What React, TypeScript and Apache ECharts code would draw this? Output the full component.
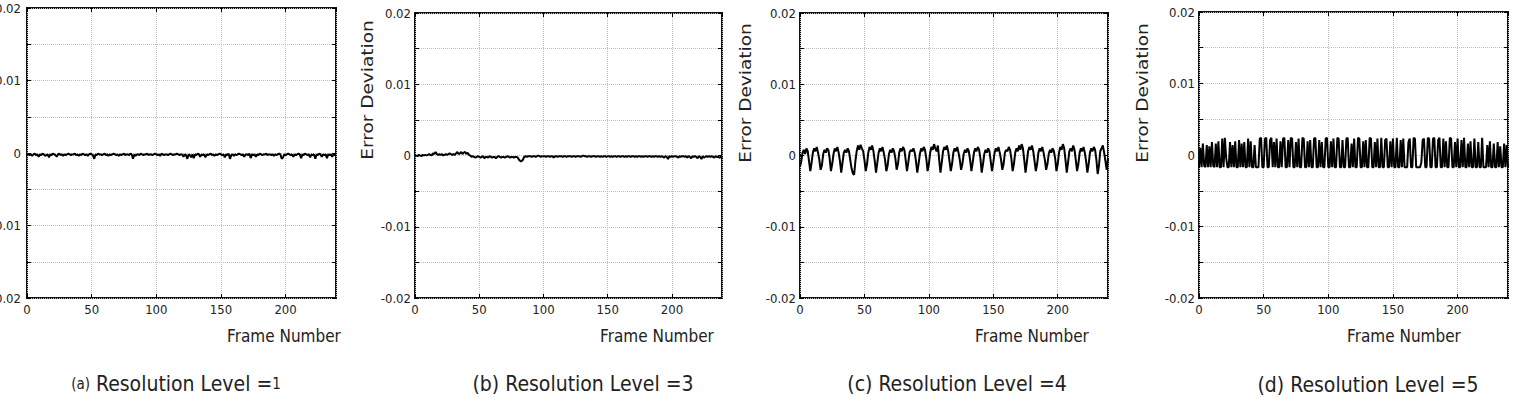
import React, { useEffect, useRef } from "react";
import * as echarts from "echarts";

// Error deviation per frame, in units of 1e-4 (frame index = array position)
const SCALE = 1e-4;

const levelA = [
  -1, -2, -3, -2, -4, -2, -1, -3, -2, -5,
  -2, -3, -1, -2, -4, -3, -2, -6, -2, -3,
  -1, -2, -3, -5, -2, -1, -3, -2, -4, -2,
  -3, -2, -1, -2, -3, -2, -2, -1, -3, -2,
  -4, -2, -3, -1, -2, -3, -2, -4, -2, -1,
  -2, -3, -8, -2, -3, -1, -2, -2, -3, -2,
  -1, -3, -2, -4, -2, -3, -2, -1, -2, -3,
  -2, -4, -2, -3, -2, -1, -3, -2, -2, -3,
  -1, -2, -8, -2, -4, -2, -2, -3, -1, -2,
  -3, -2, -2, -1, -3, -2, -2, -3, -2, -1,
  -2, -3, -2, -4, -1, -2, -3, -2, -2, -3,
  -2, -1, -2, -3, -2, -2, -1, -2, -3, -2,
  -2, -5, -2, -3, -8, -2, -3, -6, -2, -7,
  -2, -3, -1, -2, -5, -2, -3, -2, -6, -2,
  -3, -2, -1, -3, -2, -4, -2, -3, -2, -1,
  -2, -3, -2, -6, -2, -3, -1, -8, -3, -2,
  -4, -2, -3, -2, -1, -2, -3, -2, -5, -2,
  -2, -3, -1, -7, -2, -3, -2, -5, -2, -3,
  -1, -2, -3, -2, -2, -1, -3, -2, -2, -3,
  -2, -4, -2, -3, -2, -1, -2, -8, -6, -2,
  -3, -2, -1, -2, -3, -2, -5, -2, -3, -2,
  -1, -2, -7, -2, -3, -1, -2, -3, -2, -6,
  -2, -3, -2, -8, -2, -3, -1, -2, -5, -2,
  -3, -2, -7, -2, -3, -2, -5, -2, -3, -2,
];

const levelB = [
  -1, 0, -1, 1, 0, -1, 1, 0, 1, 0,
  1, 2, 1, 0, 3, 2, 5, 2, 1, 2,
  1, 2, 0, 1, 2, 1, 2, 3, 2, 1,
  2, 1, 3, 5, 2, 3, 5, 2, 4, 5,
  2, 4, 1, 0, -2, -1, -2, -3, -2, -1,
  -2, -3, -2, -1, -4, -2, -2, -3, -1, -2,
  -3, -2, -2, -4, -2, -1, -2, -3, -2, -2,
  -3, -2, -1, -2, -3, -2, -2, -3, -2, -2,
  -3, -6, -8, -8, -6, -2, -1, -2, -1, -1,
  -1, -2, -1, -1, -2, -1, 0, -1, -2, -1,
  -1, -1, -2, -1, -1, -2, -1, -1, -3, -1,
  -1, -2, -1, -1, -1, -2, -1, -1, -2, -1,
  -1, -1, -2, -1, -1, -2, -1, -1, -1, -2,
  -1, 0, -1, -1, -2, -1, -1, -2, -1, -1,
  -1, -2, -1, -1, -2, -1, -2, -1, -1, -2,
  -1, -1, -2, -1, -2, -1, -1, -2, -1, -1,
  -2, -1, -1, -2, -1, -2, -1, -1, -2, -1,
  -1, -2, -1, -2, -1, -1, -2, -1, -2, -1,
  -1, -2, -1, -1, -2, -1, -2, -1, -1, -2,
  -1, -2, -1, -2, -3, -1, -2, -5, -1, -2,
  -1, -2, -1, -1, -2, -3, -1, -2, -1, -1,
  -2, -1, -3, -1, -2, -4, -1, -2, -1, -2,
  -4, -1, -2, -5, -1, -3, -2, -1, -2, -1,
  -2, -1, -2, -3, -1, -2, -2, -3, -2, -4,
];

const levelC = [
  -16, -8, 4, 8, 2, 10, 6, -8, -22, -10,
  4, 10, 6, 12, 4, -6, -20, -14, 2, 8,
  4, 10, 8, -4, -22, -12, 2, 10, 6, 12,
  4, -8, -24, -10, 4, 8, 4, 10, 6, -6,
  -18, -25, -27, -8, 6, 14, 8, 15, 10, 6,
  -6, -22, -12, 4, 12, 8, 14, 6, -8, -24,
  -10, 4, 10, 6, 12, 4, -6, -22, -14, 2,
  8, 4, 10, 6, -4, -20, -12, 4, 10, 6,
  12, 8, -6, -22, -10, 4, 8, 6, 10, 4,
  -8, -24, -12, 2, 10, 6, 12, 8, -4, -22,
  -12, 4, 12, 8, 16, 10, 6, 14, -6, -24,
  -10, 6, 12, 8, 14, 6, -8, -22, -12, 4,
  10, 6, 12, 4, -6, -20, -12, 2, 8, 4,
  10, 6, -6, -22, -10, 4, 10, 6, 12, 8,
  -4, -24, -12, 2, 8, 4, 10, 6, -8, -22,
  -10, 4, 10, 6, 12, 4, -6, -20, -12, 4,
  8, 6, 12, 8, -4, -22, -12, 4, 10, 6,
  14, 8, 16, 10, -6, -24, -10, 6, 12, 8,
  14, 6, -8, -22, -12, 4, 10, 6, 12, 4,
  -6, -20, -12, 2, 8, 4, 10, 6, -4, -22,
  -12, 4, 12, 8, 16, 10, -6, -24, -10, 6,
  10, 6, 14, 8, -6, -22, -12, 4, 10, 6,
  12, 4, -8, -24, -12, 4, 10, 6, 12, 8,
  -6, -26, -14, 6, 10, 14, 4, -8, -20, -4,
];

const levelD = [
  -17, 10, -17, 16, -15, -17, 14, -17, 12, -17,
  18, -15, -17, 16, -17, 19, -17, -17, 23, -17,
  24, -4, -17, -17, 18, -17, 14, -17, 19, -17,
  -17, 21, -17, 16, -17, 18, -17, -17, 23, -17,
  19, -17, -17, 14, -17, -17, -17, 23, 24, -17,
  -17, 23, 24, -17, -17, 21, 24, -17, 18, -17,
  23, -17, -17, 19, -17, 23, 24, -17, -17, 21,
  -17, 24, 23, -17, -17, 18, -17, 23, -17, -17,
  24, 23, -17, -17, 19, -17, 21, -17, -17, 23,
  24, -17, -17, 21, -17, 18, -17, -17, 23, 24,
  -17, -17, 19, -17, 23, -17, -17, 24, 23, -17,
  -17, 21, -17, -17, 23, 24, -17, -17, 16, -17,
  23, -17, -17, 24, 23, -17, -17, 19, -17, 21,
  -17, -17, 24, 23, -17, -17, 18, -17, 23, -17,
  -17, 24, -17, -17, 21, 23, -17, -17, 19, -17,
  23, -17, -17, 24, -17, -17, 21, -17, 23, -17,
  -17, -17, 18, 23, -17, -17, 24, 23, -17, -17,
  -17, -17, -10, 21, 23, -17, -17, 24, 23, -17,
  -17, 23, 24, -17, -17, 21, 24, -17, -17, 23,
  -17, 19, -17, -17, 24, 23, -17, -17, 18, -17,
  23, -17, -17, 21, -17, 24, -17, -17, 16, -17,
  19, -17, -17, 23, -17, -17, 18, -17, -17, 24,
  -17, -17, -17, 14, -17, 19, -17, -17, 16, -17,
  -17, 18, -17, 12, -17, -17, 16, -17, 14, -17,
];

const panelSeries = [levelA, levelB, levelC, levelD];
const panelLetters = ["(a)", "(b)", "(c)", "(d)"];
const panelLevels = ["1", "3", "4", "5"];
const xTitle = "Frame Number";
const yTitle = "Error Deviation";
const titleText = "Resolution Level =";

const X_MAX = 239;
const Y_MIN = -0.02;
const Y_MAX = 0.02;

// layout (pixels)
const grids = [
  { left: 27, top: 8, width: 309, height: 290 },
  { left: 415, top: 13, width: 307, height: 285 },
  { left: 800, top: 13, width: 308, height: 285 },
  { left: 1199, top: 12, width: 309, height: 286 },
];
const yLabelMargin = [6, 4, 4, 4];
const frameLabelPos = [
  { x: 284, y: 336 },
  { x: 657, y: 336 },
  { x: 1032, y: 336 },
  { x: 1404, y: 336 },
];
const yTitlePos = [null, { x: 368, y: 90 }, { x: 746, y: 93 }, { x: 1143, y: 93 }];
const titlePos = [
  { x: 176, y: 384 },
  { x: 583, y: 384 },
  { x: 957, y: 384 },
  { x: 1368, y: 385 },
];

const NARROW = "'DejaVu Sans Condensed', 'Liberation Sans Narrow', 'DejaVu Sans', sans-serif";
const REGULAR = "'DejaVu Sans', sans-serif";
const GRID_LINE = { type: "dotted", color: "#bdbdbd", width: 1 };

export default function App() {
  const ref = useRef<HTMLDivElement>(null);
  useEffect(() => {
    if (!ref.current) return;
    const chart = echarts.init(ref.current, undefined, { renderer: "svg" });

    const xAxis: any[] = [];
    const yAxis: any[] = [];
    const series: any[] = [];
    const graphic: any[] = [];
    const tick = { show: true, inside: true, length: 4, lineStyle: { color: "#000", width: 1 } };
    const noLine = { show: false, onZero: false };

    grids.forEach((g, i) => {
      xAxis.push({
        gridIndex: i,
        type: "value",
        position: "bottom",
        min: 0,
        max: X_MAX,
        interval: 50,
        axisLine: noLine,
        axisTick: tick,
        axisLabel: {
          showMaxLabel: false,
          fontSize: 13,
          color: "#222",
          margin: 5,
          fontFamily: NARROW,
        },
        splitLine: { show: true, lineStyle: GRID_LINE },
      });
      xAxis.push({
        gridIndex: i,
        type: "value",
        position: "top",
        min: 0,
        max: X_MAX,
        interval: 50,
        axisLine: noLine,
        axisTick: tick,
        axisLabel: { show: false },
        splitLine: { show: false },
      });
      yAxis.push({
        gridIndex: i,
        type: "value",
        position: "left",
        min: Y_MIN,
        max: Y_MAX,
        interval: 0.005,
        axisLine: noLine,
        axisTick: tick,
        axisLabel: {
          fontSize: 13,
          color: "#222",
          margin: yLabelMargin[i],
          fontFamily: NARROW,
          formatter: (v: number) => {
            const k = Math.round(v / 0.005);
            if (k % 2 !== 0) return "";
            if (k === 0) return "0";
            return (k * 0.005).toFixed(2);
          },
        },
        splitLine: { show: true, lineStyle: GRID_LINE },
      });
      yAxis.push({
        gridIndex: i,
        type: "value",
        position: "right",
        min: Y_MIN,
        max: Y_MAX,
        interval: 0.005,
        axisLine: noLine,
        axisTick: tick,
        axisLabel: { show: false },
        splitLine: { show: false },
      });
      series.push({
        type: "line",
        xAxisIndex: 2 * i,
        yAxisIndex: 2 * i,
        data: panelSeries[i].map((v, k) => [k, v * SCALE]),
        showSymbol: false,
        symbol: "none",
        lineStyle: { color: "#000", width: 2 },
        clip: true,
      });

      graphic.push({
        type: "text",
        x: frameLabelPos[i].x,
        y: frameLabelPos[i].y,
        style: {
          text: xTitle,
          fontSize: 17,
          fontFamily: NARROW,
          fill: "#222",
          textAlign: "center",
          textVerticalAlign: "middle",
        },
      });
      const yp = yTitlePos[i];
      if (yp) {
        graphic.push({
          type: "text",
          x: yp.x,
          y: yp.y,
          rotation: Math.PI / 2,
          scaleY: 0.85,
          style: {
            text: yTitle,
            fontSize: 18.5,
            fontFamily: REGULAR,
            fill: "#222",
            textAlign: "center",
            textVerticalAlign: "middle",
          },
        });
      }
      const small = i === 0;
      graphic.push({
        type: "text",
        x: titlePos[i].x,
        y: titlePos[i].y,
        style: {
          text: `{s|${panelLetters[i]}} {b|${titleText}}{${small ? "s" : "b"}|${panelLevels[i]}}`,
          rich: {
            s: { fontSize: small ? 15 : 21, fontFamily: NARROW, fill: "#222" },
            b: { fontSize: 21, fontFamily: NARROW, fill: "#222" },
          },
          fontSize: 21,
          fontFamily: NARROW,
          fill: "#222",
          textAlign: "center",
          textVerticalAlign: "middle",
        },
      });
    });

    chart.setOption({
      animation: false,
      backgroundColor: "#fff",
      grid: grids.map((g) => ({
        ...g,
        outerBoundsMode: "none",
        containLabel: false,
        show: true,
        borderColor: "#111",
        borderWidth: 2,
        backgroundColor: "transparent",
      })),
      xAxis,
      yAxis,
      series,
      graphic,
    });
    return () => chart.dispose();
  }, []);

  return (
    <div
      ref={ref}
      style={{ position: "absolute", left: 0, top: 0, width: 1516, height: 402 }}
    />
  );
}
